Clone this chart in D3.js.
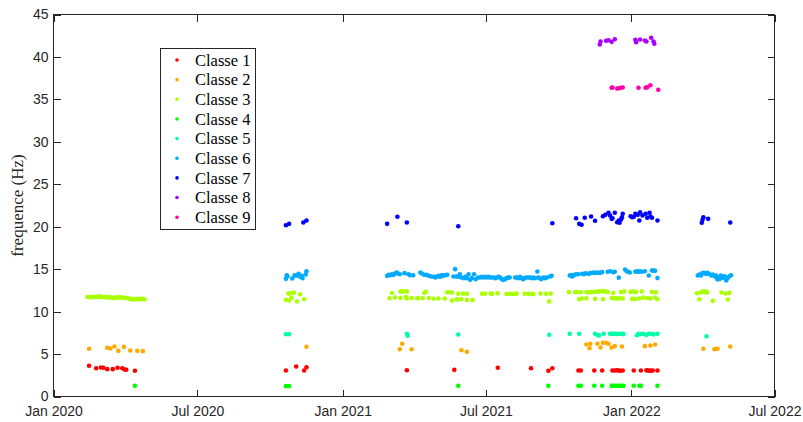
<!DOCTYPE html>
<html>
<head>
<meta charset="utf-8">
<script src="https://cdn.jsdelivr.net/npm/d3@7"></script>
<style>
  html, body { margin: 0; padding: 0; background: #ffffff; }
  svg { display: block; }
</style>
</head>
<body>
<div id="chart"></div>
<script>
// ---------------- DATA ----------------
const classNames = ["Classe 1","Classe 2","Classe 3","Classe 4","Classe 5","Classe 6","Classe 7","Classe 8","Classe 9"];
const classColors = ["#ff0000","#ffaa00","#aaff00","#00ff00","#00ffaa","#00aaff","#0000ff","#aa00ff","#ff00aa"];
const yTicks = [0,5,10,15,20,25,30,35,40,45];
const xTicks = ["2020-01-01","2020-07-01","2021-01-01","2021-07-01","2022-01-01","2022-07-01"];
const xDomain = ["2020-01-01","2022-07-01"];
const yDomain = [0,45];
const yLabel = "frequence (Hz)";

const class1 = [
  ["2020-02-15",3.62],["2020-02-24",3.33],["2020-03-01",3.42],["2020-03-04",3.38],["2020-03-09",3.22],
  ["2020-03-16",3.22],["2020-03-22",3.38],["2020-03-28",3.33],["2020-03-31",3.18],["2020-04-02",3.15],["2020-04-13",3.03],
  ["2020-10-21",3.06],["2020-11-03",3.53],["2020-11-13",3.06],["2020-11-16",3.45],
  ["2021-03-23",3.10],["2021-05-22",3.14],["2021-07-16",3.38],["2021-08-27",3.33],["2021-09-18",3.03],["2021-09-23",3.33],
  ["2021-10-26",3.06],["2021-10-29",3.06],["2021-11-15",3.06],["2021-11-25",3.06],["2021-12-08",3.06],["2021-12-11",3.06],
  ["2021-12-14",3.08],["2021-12-16",3.06],["2021-12-18",3.04],["2021-12-21",3.06],["2022-01-04",3.06],["2022-01-13",3.06],
  ["2022-01-20",3.08],["2022-01-22",3.06],["2022-01-24",3.06],["2022-01-26",3.04],["2022-01-28",3.06],["2022-02-03",3.06]
];
const class2 = [
  ["2020-02-15",5.62],["2020-03-09",5.74],["2020-03-13",5.65],["2020-03-18",5.89],["2020-03-23",5.38],
  ["2020-03-30",5.85],["2020-04-07",5.42],["2020-04-16",5.38],["2020-04-23",5.34],
  ["2020-11-16",5.85],
  ["2021-03-14",5.57],["2021-03-17",6.21],["2021-03-29",5.57],["2021-05-31",5.45],["2021-06-07",5.26],
  ["2021-11-05",6.13],["2021-11-09",5.69],["2021-11-10",6.21],["2021-11-19",6.21],["2021-11-23",5.77],["2021-11-26",6.33],
  ["2021-11-30",6.33],["2021-12-03",6.21],["2021-12-07",5.77],["2021-12-11",5.93],["2021-12-20",5.89],["2022-01-18",5.93],
  ["2022-01-25",6.00],["2022-01-31",6.13],
  ["2022-04-02",5.62],["2022-04-16",5.57],["2022-04-18",5.62],["2022-04-20",5.62],["2022-05-06",5.89]
];
const class3 = [
  ["2020-02-13",11.72],["2020-02-15",11.70],["2020-02-17",11.72],["2020-02-19",11.70],["2020-02-21",11.73],["2020-02-23",11.72],
  ["2020-02-25",11.74],["2020-02-27",11.75],["2020-02-29",11.76],["2020-03-02",11.74],["2020-03-04",11.73],["2020-03-06",11.72],
  ["2020-03-08",11.70],["2020-03-10",11.68],["2020-03-12",11.70],["2020-03-14",11.66],["2020-03-16",11.63],["2020-03-18",11.62],
  ["2020-03-20",11.65],["2020-03-22",11.67],["2020-03-24",11.68],["2020-03-26",11.66],["2020-03-28",11.67],["2020-03-30",11.64],
  ["2020-04-01",11.60],["2020-04-03",11.58],["2020-04-05",11.55],["2020-04-07",11.50],["2020-04-09",11.47],["2020-04-11",11.42],
  ["2020-04-13",11.45],["2020-04-15",11.50],["2020-04-17",11.48],["2020-04-19",11.47],["2020-04-21",11.50],["2020-04-23",11.47],
  ["2020-04-25",11.46],
  ["2020-10-21",11.39],["2020-10-24",12.13],["2020-10-26",12.13],["2020-10-28",11.63],["2020-10-30",12.22],["2020-10-31",12.22],
  ["2020-10-25",11.31],["2020-11-04",11.19],["2020-11-08",12.05],["2020-11-13",11.46],
  ["2021-03-04",12.20],["2021-03-15",12.38],["2021-03-17",12.40],["2021-03-18",12.35],["2021-03-23",12.38],["2021-04-14",12.20],
  ["2021-04-16",12.33],["2021-05-13",12.28],["2021-05-16",12.28],["2021-05-19",12.25],["2021-05-27",12.10],["2021-06-02",12.12],
  ["2021-06-07",12.10],["2021-06-26",12.10],["2021-06-30",12.12],["2021-07-07",12.14],["2021-07-09",12.10],["2021-07-16",12.15],
  ["2021-07-27",12.08],["2021-07-31",12.10],["2021-08-04",12.08],["2021-08-07",12.10],["2021-08-09",12.12],["2021-08-19",12.10],
  ["2021-08-24",12.10],["2021-08-28",12.08],["2021-08-30",12.06],["2021-09-08",12.12],["2021-09-15",12.10],["2021-09-21",12.12],
  ["2021-03-01",11.58],["2021-03-08",11.66],["2021-03-15",11.60],["2021-03-22",11.72],["2021-03-23",11.55],["2021-03-29",11.60],
  ["2021-04-05",11.58],["2021-04-06",11.60],["2021-04-12",11.58],["2021-04-20",11.60],["2021-04-26",11.52],["2021-05-02",11.55],
  ["2021-05-10",11.55],
  ["2021-05-19",11.30],["2021-05-25",11.45],["2021-05-26",11.42],["2021-05-31",11.45],["2021-06-07",11.38],["2021-06-14",11.35],
  ["2021-09-19",11.20],
  ["2021-10-14",12.30],["2021-10-22",12.28],["2021-10-24",12.30],["2021-10-29",12.28],["2021-11-05",12.30],["2021-11-08",12.27],
  ["2021-11-11",12.30],["2021-11-15",12.30],["2021-11-19",12.35],["2021-11-21",12.38],["2021-11-25",12.42],["2021-11-27",12.38],
  ["2021-11-29",12.40],["2021-12-02",12.30],["2021-12-09",12.20],["2021-12-19",12.30],["2021-12-23",12.38],["2021-12-31",12.32],
  ["2022-01-04",12.38],["2022-01-07",12.30],["2022-01-14",12.38],["2022-01-27",12.30],["2022-02-01",12.28],
  ["2021-10-27",11.45],["2021-10-30",11.55],["2021-11-05",11.58],["2021-11-16",11.50],["2021-11-26",11.45],["2021-12-07",11.60],
  ["2021-12-10",11.58],["2021-12-13",11.55],["2021-12-15",11.55],["2021-12-18",11.58],["2021-12-21",11.55],["2022-01-02",11.50],
  ["2022-01-06",11.48],["2022-01-11",11.55],["2022-01-16",11.65],["2022-01-21",11.60],["2022-01-25",11.55],["2022-01-31",11.65],
  ["2022-02-03",11.45],
  ["2022-03-25",12.17],["2022-03-28",11.46],["2022-03-30",12.25],["2022-04-02",12.40],["2022-04-04",12.29],["2022-04-05",12.40],
  ["2022-04-07",12.25],["2022-04-14",11.27],["2022-04-25",12.25],["2022-04-30",12.13],["2022-05-03",11.43],["2022-05-05",12.21]
];
const class4 = [
  ["2020-04-13",1.26],["2020-10-21",1.22],["2020-10-25",1.22],["2021-05-27",1.26],["2021-09-18",1.26],
  ["2021-10-26",1.26],["2021-10-29",1.26],["2021-11-15",1.26],["2021-11-25",1.26],["2021-12-07",1.26],["2021-12-08",1.26],
  ["2021-12-11",1.26],["2021-12-13",1.26],["2021-12-16",1.26],["2021-12-18",1.26],["2021-12-20",1.26],["2021-12-22",1.26],
  ["2022-01-04",1.26],["2022-01-11",1.26],["2022-01-13",1.26],["2022-02-03",1.26]
];
const class5 = [
  ["2020-10-21",7.34],["2020-10-25",7.34],["2021-03-23",7.38],["2021-03-24",7.15],["2021-05-27",7.30],["2021-09-19",7.27],
  ["2021-10-15",7.38],["2021-10-27",7.38],["2021-11-16",7.38],["2021-11-19",7.25],["2021-11-21",7.20],["2021-11-27",7.40],
  ["2021-12-05",7.38],["2021-12-07",7.38],["2021-12-09",7.40],["2021-12-11",7.38],["2021-12-14",7.38],["2021-12-17",7.40],
  ["2021-12-20",7.38],["2021-12-22",7.35],["2022-01-08",7.22],["2022-01-10",7.38],["2022-01-12",7.35],["2022-01-16",7.38],
  ["2022-01-20",7.25],["2022-01-23",7.40],["2022-01-27",7.38],["2022-01-29",7.32],["2022-02-03",7.38],
  ["2022-04-06",7.10]
];
const class6 = [
  ["2020-10-21",13.86],["2020-10-22",14.29],["2020-10-29",13.90],["2020-11-01",14.29],["2020-11-03",14.22],["2020-11-06",14.45],
  ["2020-11-08",14.10],["2020-11-10",14.22],["2020-11-11",13.94],["2020-11-15",14.37],["2020-11-16",14.76],["2020-10-23",14.17],
  ["2021-02-26",14.21],["2021-02-28",14.33],["2021-03-02",14.29],["2021-03-04",14.41],["2021-03-06",14.33],["2021-03-08",14.49],
  ["2021-03-10",14.61],["2021-03-12",14.49],["2021-03-14",14.41],["2021-03-20",14.53],["2021-03-25",14.41],["2021-03-27",14.29],
  ["2021-03-31",14.29],["2021-04-09",14.61],["2021-04-11",14.49],["2021-04-14",14.33],["2021-04-17",14.33],["2021-04-20",14.21],
  ["2021-04-23",14.14],["2021-04-26",14.10],["2021-04-28",14.02],["2021-04-30",14.14],["2021-05-02",14.21],["2021-05-04",14.10],
  ["2021-05-06",14.29],["2021-05-08",14.21],["2021-05-10",14.29],["2021-05-13",14.33],["2021-05-21",14.14],["2021-05-23",15.00],
  ["2021-05-25",14.14],["2021-05-27",14.10],["2021-05-29",14.41],["2021-05-31",14.02],["2021-06-03",13.94],["2021-06-05",14.10],
  ["2021-06-07",13.94],["2021-06-09",14.41],["2021-06-11",13.74],["2021-06-13",13.94],["2021-06-16",14.41],["2021-06-18",13.82],
  ["2021-06-21",14.02],["2021-06-24",14.02],["2021-06-26",14.10],["2021-06-28",14.02],["2021-06-30",14.10],["2021-07-02",14.02],
  ["2021-07-04",14.10],["2021-07-06",14.02],["2021-07-08",14.02],["2021-07-11",14.02],["2021-07-13",13.94],["2021-07-15",14.02],
  ["2021-07-17",14.10],["2021-07-19",14.02],["2021-07-21",13.82],["2021-07-23",13.74],["2021-07-25",13.82],["2021-07-27",13.94],
  ["2021-07-29",14.02],["2021-07-31",14.02],["2021-08-07",14.02],["2021-08-09",14.02],["2021-08-11",13.94],["2021-08-13",14.10],
  ["2021-08-15",13.94],["2021-08-17",13.82],["2021-08-19",13.94],["2021-08-21",14.02],["2021-08-24",14.02],["2021-08-26",14.02],
  ["2021-08-28",13.94],["2021-08-30",14.02],["2021-09-01",13.94],["2021-09-04",14.73],["2021-09-05",14.02],["2021-09-07",13.94],
  ["2021-09-09",13.82],["2021-09-12",14.02],["2021-09-14",13.94],["2021-09-16",14.02],["2021-09-20",14.14],["2021-09-22",14.21],
  ["2021-10-15",14.25],
  ["2021-10-17",14.30],["2021-10-18",14.15],["2021-10-19",14.20],["2021-10-21",14.35],["2021-10-23",14.40],["2021-10-26",14.40],
  ["2021-10-31",14.45],["2021-11-02",14.40],["2021-11-04",14.50],["2021-11-08",14.45],["2021-11-10",14.55],["2021-11-12",14.55],
  ["2021-11-14",14.60],["2021-11-16",14.55],["2021-11-19",14.60],["2021-11-21",14.55],["2021-11-23",14.60],["2021-11-25",14.65],
  ["2021-12-02",14.70],["2021-12-05",14.75],["2021-12-09",14.65],["2021-12-11",14.70],["2021-12-16",14.00],["2021-12-24",14.95],
  ["2021-12-26",14.75],["2021-12-28",14.70],["2021-12-30",14.60],["2022-01-06",14.70],["2022-01-08",14.75],["2022-01-10",14.70],
  ["2022-01-12",14.75],["2022-01-14",14.70],["2022-01-18",14.75],["2022-01-23",14.25],["2022-01-27",14.85],["2022-01-29",14.85],
  ["2022-01-31",14.80],["2022-02-03",13.95],
  ["2022-03-26",14.25],["2022-03-28",14.37],["2022-03-30",14.25],["2022-04-01",14.53],["2022-04-03",14.57],["2022-04-05",14.45],
  ["2022-04-07",14.57],["2022-04-09",14.45],["2022-04-12",14.25],["2022-04-14",14.37],["2022-04-16",14.17],["2022-04-18",14.25],
  ["2022-04-19",13.98],["2022-04-21",14.05],["2022-04-23",13.86],["2022-04-25",14.13],["2022-04-27",13.98],["2022-04-29",14.17],
  ["2022-05-01",13.66],["2022-05-03",13.98],["2022-05-05",14.17],["2022-05-07",14.29],["2022-04-20",13.78],["2022-04-24",14.25]
];
const class7 = [
  ["2020-10-21",20.18],["2020-10-25",20.34],["2020-11-12",20.50],["2020-11-16",20.73],
  ["2021-02-26",20.34],["2021-03-11",21.17],["2021-03-23",20.50],["2021-05-27",20.06],["2021-09-23",20.41],
  ["2021-10-23",21.00],["2021-10-27",20.34],["2021-10-30",20.23],["2021-11-03",21.05],["2021-11-11",21.20],["2021-11-16",20.70],
  ["2021-11-26",21.24],["2021-11-29",21.40],["2021-12-03",21.64],["2021-12-05",21.32],["2021-12-08",21.00],["2021-12-11",21.64],
  ["2021-12-07",20.93],["2021-12-16",20.73],["2021-12-17",20.46],["2021-12-14",20.53],["2021-12-20",21.12],["2021-12-21",21.52],
  ["2021-12-31",21.24],["2022-01-04",21.17],["2022-01-06",21.52],["2022-01-09",21.40],["2022-01-11",20.73],["2022-01-12",21.71],
  ["2022-01-15",21.32],["2022-01-19",21.52],["2022-01-21",21.05],["2022-01-24",21.64],["2022-01-25",21.20],["2022-01-27",21.05],
  ["2022-02-03",20.73],["2021-12-19",20.85],["2022-01-02",21.12],
  ["2022-03-31",20.46],["2022-04-01",20.81],["2022-04-02",21.12],["2022-04-08",20.93],["2022-05-06",20.50]
];
const class8 = [
  ["2021-11-23",41.82],["2021-11-22",41.47],["2021-11-30",41.90],["2021-12-03",41.97],["2021-12-07",41.78],["2021-12-11",42.09],
  ["2022-01-06",42.02],["2022-01-07",41.74],["2022-01-12",42.05],["2022-01-18",41.94],["2022-01-20",41.82],["2022-01-26",42.26],
  ["2022-01-29",41.82],["2022-01-30",41.55]
];
const class9 = [
  ["2021-12-07",36.37],["2021-12-08",36.40],["2021-12-14",36.28],["2021-12-16",36.32],["2021-12-18",36.37],["2021-12-21",36.40],
  ["2022-01-10",36.37],["2022-01-19",36.37],["2022-01-21",36.44],["2022-01-25",36.67],["2022-02-04",36.13]
];
const allClasses = [class1,class2,class3,class4,class5,class6,class7,class8,class9];

// ---------------- CHART ----------------
const W = 803, H = 422;
const plot = {left: 53.5, right: 774.5, top: 14.5, bottom: 396.5};
const axisColor = "#262626";
const parse = d3.utcParse("%Y-%m-%d");

const svg = d3.select("#chart").append("svg")
  .attr("width", W).attr("height", H)
  .attr("viewBox", `0 0 ${W} ${H}`);

svg.append("rect").attr("width", W).attr("height", H).attr("fill", "#ffffff");

const x = d3.scaleUtc().domain(xDomain.map(parse)).range([plot.left, plot.right]);
const y = d3.scaleLinear().domain(yDomain).range([plot.bottom, plot.top]);

// points
const gPts = svg.append("g");
allClasses.forEach((pts, i) => {
  gPts.append("g").selectAll("circle").data(pts).join("circle")
    .attr("cx", d => x(parse(d[0])))
    .attr("cy", d => y(d[1]))
    .attr("r", 2.3)
    .attr("fill", classColors[i]);
});

// axes
const tickFont = "'Liberation Sans', Arial, Helvetica, sans-serif";
const xTickDates = xTicks.map(parse);
const fmt = d3.utcFormat("%b %Y");

const xAxis = svg.append("g").attr("transform", `translate(0,${plot.bottom})`)
  .call(d3.axisBottom(x).tickValues(xTickDates).tickFormat(fmt).tickSizeInner(-7).tickSizeOuter(0).tickPadding(10));
const xAxisTop = svg.append("g").attr("transform", `translate(0,${plot.top})`)
  .call(d3.axisTop(x).tickValues(xTickDates).tickFormat("").tickSizeInner(-7).tickSizeOuter(0));
const yAxis = svg.append("g").attr("transform", `translate(${plot.left},0)`)
  .call(d3.axisLeft(y).tickValues(yTicks).tickSizeInner(-7).tickSizeOuter(0).tickPadding(5));
const yAxisRight = svg.append("g").attr("transform", `translate(${plot.right},0)`)
  .call(d3.axisRight(y).tickValues(yTicks).tickFormat("").tickSizeInner(-7).tickSizeOuter(0));

[xAxis, xAxisTop, yAxis, yAxisRight].forEach(g => {
  g.select(".domain").remove();
  g.selectAll(".tick line").attr("stroke", axisColor).attr("stroke-width", 1).attr("shape-rendering", "crispEdges");
  g.selectAll(".tick text").attr("fill", axisColor).style("font-family", tickFont).style("font-size", "14px");
});

// box
svg.append("rect")
  .attr("x", plot.left).attr("y", plot.top)
  .attr("width", plot.right - plot.left).attr("height", plot.bottom - plot.top)
  .attr("fill", "none").attr("stroke", axisColor).attr("stroke-width", 1)
  .attr("shape-rendering", "crispEdges");

// y label
const serif = "'Liberation Serif', 'DejaVu Serif', serif";
svg.append("text")
  .attr("transform", `translate(23,${(plot.top + plot.bottom) / 2}) rotate(-90)`)
  .attr("text-anchor", "middle")
  .attr("fill", axisColor)
  .style("font-family", serif).style("font-size", "17px")
  .text(yLabel);

// legend
const leg = svg.append("g");
leg.append("rect")
  .attr("x", 160.5).attr("y", 48.5).attr("width", 95).attr("height", 181)
  .attr("fill", "#ffffff").attr("stroke", axisColor).attr("stroke-width", 1)
  .attr("shape-rendering", "crispEdges");
const rowY = i => 60 + i * 19.65;
leg.selectAll("circle.lg").data(classNames).join("circle")
  .attr("class", "lg")
  .attr("cx", 177).attr("cy", (d, i) => rowY(i))
  .attr("r", 1.8)
  .attr("fill", (d, i) => classColors[i]);
leg.selectAll("text.lg").data(classNames).join("text")
  .attr("class", "lg")
  .attr("x", 195).attr("y", (d, i) => rowY(i))
  .attr("dy", "0.35em")
  .attr("fill", "#000000")
  .style("font-family", serif).style("font-size", "16.5px")
  .text(d => d);
</script>
</body>
</html>
